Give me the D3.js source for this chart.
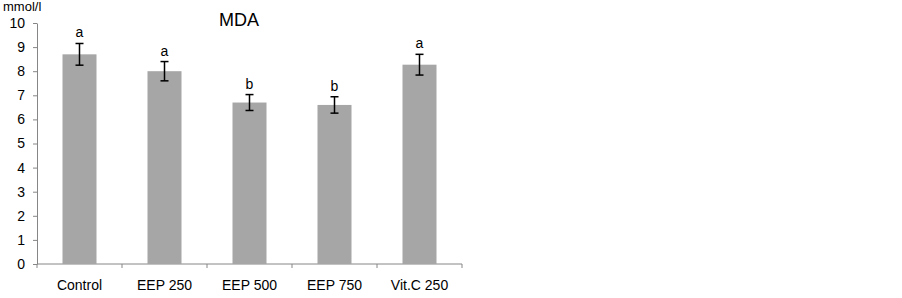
<!DOCTYPE html>
<html>
<head>
<meta charset="utf-8">
<script src="https://cdn.jsdelivr.net/npm/d3@7"></script>
<style>
  body { margin: 0; background: #fff; }
  text { font-family: "Liberation Sans", Arial, sans-serif; }
</style>
</head>
<body>
<svg id="chart"></svg>
<script>
const categories = ["Control", "EEP 250", "EEP 500", "EEP 750", "Vit.C 250"]
const values = [8.7, 8.0, 6.7, 6.6, 8.27]
const errors = [0.45, 0.4, 0.33, 0.34, 0.43]
const letters = ["a", "a", "b", "b", "a"]
const yTicks = [0, 1, 2, 3, 4, 5, 6, 7, 8, 9, 10]

const width = 902, height = 298
const margins = {left: 37, right: 440, top: 23, bottom: 34}

const svg = d3.select("#chart").attr("width", width).attr("height", height)

const scaleX = d3.scaleBand().domain(categories)
    .range([margins.left, width - margins.right])
    .paddingInner(0.6).paddingOuter(0.3)
const scaleY = d3.scaleLinear().domain([0, 10]).range([height - margins.bottom, margins.top])

const axisColor = "#868686"

// y axis
const yAxis = svg.append("g").attr("transform", `translate(${margins.left},0)`)
    .call(d3.axisLeft(scaleY).tickValues(yTicks).tickSize(4).tickSizeOuter(0).tickPadding(8))
yAxis.select(".domain").attr("stroke", axisColor)
yAxis.selectAll(".tick line").attr("stroke", axisColor)
yAxis.selectAll(".tick text").attr("font-size", 14).attr("fill", "#000")
    .attr("font-family", "Liberation Sans, Arial, sans-serif")

// x axis: ticks between the categories
const step = scaleX.step()
const xEdges = d3.range(categories.length + 1).map(i => margins.left + i * step)
const xAxis = svg.append("g")
xAxis.append("line")
    .attr("x1", margins.left).attr("x2", xEdges[xEdges.length - 1])
    .attr("y1", scaleY(0)).attr("y2", scaleY(0))
    .attr("stroke", axisColor)
xAxis.selectAll("line.tick")
    .data(xEdges)
    .join("line")
    .attr("class", "tick")
    .attr("x1", d => d).attr("x2", d => d)
    .attr("y1", scaleY(0)).attr("y2", scaleY(0) + 4)
    .attr("stroke", axisColor)
xAxis.selectAll("text")
    .data(categories)
    .join("text")
    .text(d => d)
    .attr("x", d => scaleX(d) + scaleX.bandwidth() / 2)
    .attr("y", scaleY(0) + 26)
    .attr("text-anchor", "middle")
    .attr("font-size", 14)
    .attr("fill", "#000")

// bars
svg.append("g").selectAll("rect")
    .data(categories)
    .join("rect")
    .attr("x", d => scaleX(d))
    .attr("width", scaleX.bandwidth())
    .attr("y", (d, i) => scaleY(values[i]))
    .attr("height", (d, i) => scaleY(0) - scaleY(values[i]))
    .attr("fill", "#a6a6a6")

// error bars
const errG = svg.append("g").attr("stroke", "#000").attr("stroke-width", 1.5)
categories.forEach((c, i) => {
    let cx = scaleX(c) + scaleX.bandwidth() / 2
    let top = scaleY(values[i] + errors[i])
    let bottom = scaleY(values[i] - errors[i])
    errG.append("line").attr("x1", cx).attr("x2", cx).attr("y1", top).attr("y2", bottom)
    errG.append("line").attr("x1", cx - 4).attr("x2", cx + 4).attr("y1", top).attr("y2", top)
    errG.append("line").attr("x1", cx - 4).attr("x2", cx + 4).attr("y1", bottom).attr("y2", bottom)
})

// significance letters
svg.append("g").selectAll("text")
    .data(categories)
    .join("text")
    .text((d, i) => letters[i])
    .attr("x", d => scaleX(d) + scaleX.bandwidth() / 2)
    .attr("y", (d, i) => scaleY(values[i] + errors[i]) - 6)
    .attr("text-anchor", "middle")
    .attr("font-size", 14)
    .attr("fill", "#000")

// titles
svg.append("text").text("mmol/l")
    .attr("x", 3).attr("y", 11)
    .attr("font-size", 13).attr("fill", "#000")
svg.append("text").text("MDA")
    .attr("x", 239).attr("y", 26)
    .attr("text-anchor", "middle")
    .attr("font-size", 18).attr("fill", "#000")
</script>
</body>
</html>
